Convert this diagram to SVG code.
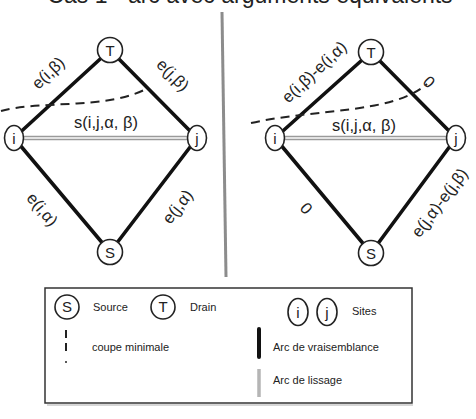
<svg xmlns="http://www.w3.org/2000/svg" width="476" height="419" viewBox="0 0 476 419">
  <style>
    text { font-family: "Liberation Sans", Arial, sans-serif; fill: #222; }
    .lbl { font-size: 16.5px; }
    .nodelbl { font-size: 15px; text-anchor: middle; }
    .leg { font-size: 11px; }
    .node { fill: #fff; stroke: #222; stroke-width: 1.6; }
    .arc { stroke: #111; stroke-width: 3.6; stroke-linecap: round; fill: none; }
    .smooth-out { stroke: #9a9a9a; stroke-width: 4.5; fill: none; }
    .smooth-in { stroke: #e2e2e2; stroke-width: 1.8; fill: none; }
    .cut { stroke: #222; stroke-width: 2; stroke-dasharray: 9 6; fill: none; }
  </style>

  <rect width="476" height="419" fill="#fff"/>

  <!-- title, clipped at the top edge -->
  <text x="250" y="2.5" font-size="23" text-anchor="middle">Cas 1 - arc avec arguments équivalents</text>

  <!-- separator between the two graphs -->
  <line x1="222" y1="12" x2="226" y2="277" stroke="#8c8c8c" stroke-width="3"/>

  <!-- connectors -->
  <g id="connectors">
    <!-- left graph -->
    <line class="arc" x1="110" y1="50" x2="14" y2="138"/>
    <line class="arc" x1="110" y1="50" x2="197" y2="138"/>
    <line class="arc" x1="14" y1="138" x2="110" y2="252"/>
    <line class="arc" x1="197" y1="138" x2="110" y2="252"/>
    <line class="smooth-out" x1="14" y1="138" x2="197" y2="138"/>
    <line class="smooth-in" x1="14" y1="138" x2="197" y2="138"/>
    <!-- right graph -->
    <line class="arc" x1="371" y1="52" x2="275" y2="138"/>
    <line class="arc" x1="371" y1="52" x2="456" y2="138"/>
    <line class="arc" x1="275" y1="138" x2="371" y2="253"/>
    <line class="arc" x1="456" y1="138" x2="371" y2="253"/>
    <line class="smooth-out" x1="275" y1="138" x2="456" y2="138"/>
    <line class="smooth-in" x1="275" y1="138" x2="456" y2="138"/>
  </g>

  <!-- minimum cuts -->
  <path class="cut" d="M 1 111 C 40 100, 108 110, 148 88"/>
  <path class="cut" d="M 251 123 C 320 108, 392 114, 427 84"/>

  <!-- edge labels, left graph -->
  <text class="lbl" text-anchor="middle" transform="translate(52 77) rotate(-43)">e(i,β)</text>
  <text class="lbl" text-anchor="middle" transform="translate(169 79) rotate(45)">e(j,β)</text>
  <text class="lbl" x="106" y="128" text-anchor="middle">s(i,j,α, β)</text>
  <text class="lbl" text-anchor="middle" transform="translate(38 213) rotate(50)">e(i,α)</text>
  <text class="lbl" text-anchor="middle" transform="translate(182 210) rotate(-52)">e(j,α)</text>

  <!-- edge labels, right graph -->
  <text class="lbl" text-anchor="middle" transform="translate(318 76) rotate(-43)">e(i,β)-e(i,α)</text>
  <text class="lbl" text-anchor="middle" transform="translate(425 86) rotate(45)">0</text>
  <text class="lbl" x="364" y="131" text-anchor="middle">s(i,j,α, β)</text>
  <text class="lbl" text-anchor="middle" transform="translate(302 212) rotate(50)">0</text>
  <text class="lbl" text-anchor="middle" transform="translate(444 206) rotate(-53)">e(j,α)-e(j,β)</text>

  <!-- nodes, left graph -->
  <g id="T1"><circle class="node" cx="110" cy="50" r="12.5"/><text class="nodelbl" x="110" y="55.5">T</text></g>
  <g id="i1"><ellipse class="node" cx="14" cy="138" rx="9.5" ry="12.5"/><text class="nodelbl" x="14" y="143.5">i</text></g>
  <g id="j1"><ellipse class="node" cx="197" cy="138" rx="9.5" ry="12.5"/><text class="nodelbl" x="197" y="143.5">j</text></g>
  <g id="S1"><circle class="node" cx="110" cy="252" r="12.5"/><text class="nodelbl" x="110" y="257.5">S</text></g>

  <!-- nodes, right graph -->
  <g id="T2"><circle class="node" cx="371" cy="52" r="12.5"/><text class="nodelbl" x="371" y="57.5">T</text></g>
  <g id="i2"><ellipse class="node" cx="275" cy="138" rx="9.5" ry="12.5"/><text class="nodelbl" x="275" y="143.5">i</text></g>
  <g id="j2"><ellipse class="node" cx="456" cy="138" rx="9.5" ry="12.5"/><text class="nodelbl" x="456" y="143.5">j</text></g>
  <g id="S2"><circle class="node" cx="371" cy="253" r="12.5"/><text class="nodelbl" x="371" y="258.5">S</text></g>

  <!-- legend -->
  <g id="legend">
    <line x1="47" y1="405" x2="413" y2="405" stroke="#d6d6d6" stroke-width="2"/>
    <rect x="45" y="288" width="367" height="115" fill="#fff" stroke="#333" stroke-width="1.5"/>
    <circle class="node" cx="67" cy="307" r="12"/>
    <text class="nodelbl" x="67" y="312">S</text>
    <text class="leg" x="93" y="311">Source</text>
    <circle class="node" cx="163" cy="307" r="12"/>
    <text class="nodelbl" x="163" y="312">T</text>
    <text class="leg" x="190" y="311">Drain</text>
    <ellipse class="node" cx="298" cy="312" rx="10" ry="13.5"/>
    <text class="nodelbl" x="298" y="318">i</text>
    <ellipse class="node" cx="327" cy="312" rx="10" ry="13.5"/>
    <text class="nodelbl" x="327" y="318">j</text>
    <text class="leg" x="352" y="315">Sites</text>
    <line x1="66" y1="330" x2="66" y2="338" stroke="#222" stroke-width="2"/>
    <line x1="66" y1="343" x2="66" y2="351" stroke="#222" stroke-width="2"/>
    <circle cx="66" cy="362" r="1" fill="#222"/>
    <text class="leg" x="92" y="351">coupe minimale</text>
    <line x1="259" y1="329" x2="259" y2="357" stroke="#111" stroke-width="4" stroke-linecap="round"/>
    <text class="leg" x="273" y="351">Arc de vraisemblance</text>
    <line x1="259" y1="369" x2="259" y2="397" stroke="#b5b5b5" stroke-width="3.5"/>
    <text class="leg" x="273" y="384">Arc de lissage</text>
  </g>
</svg>
